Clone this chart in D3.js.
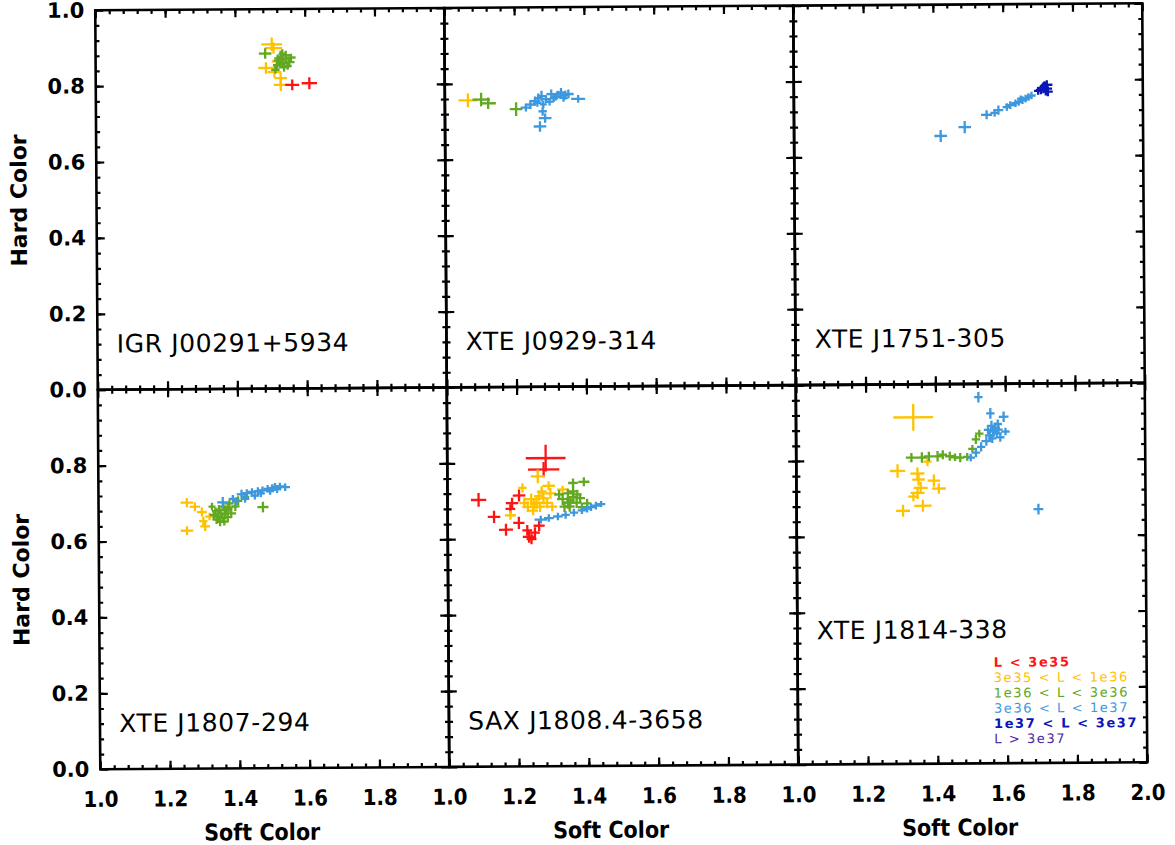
<!DOCTYPE html>
<html>
<head>
<meta charset="utf-8">
<script src="https://d3js.org/d3.v7.min.js"></script>
<style>body{margin:0;background:#fff}</style>
</head>
<body>
<svg id="grafico" width="1175" height="845"></svg>
<script>
// luminosity classes (legend)
let lumLabels = ["L < 3e35", "3e35 < L < 1e36", "1e36 < L < 3e36", "3e36 < L < 1e37", "1e37 < L < 3e37", "L > 3e37"];
let lumColors = ["#ff1414", "#ffc200", "#62a820", "#3d98de", "#0a16b8", "#4a2aa0"];

let sourceNames = ["IGR J00291+5934", "XTE J0929-314", "XTE J1751-305",
                   "XTE J1807-294", "SAX J1808.4-3658", "XTE J1814-338"];

let xTicks = [1.0, 1.2, 1.4, 1.6, 1.8, 2.0];
let yTicks = [0.0, 0.2, 0.4, 0.6, 0.8, 1.0];

// [soft color, hard color, soft err, hard err, luminosity class]
let igr00291 = [
  [1.505,0.907,0.030,0.018,1],[1.510,0.897,0.025,0.015,1],[1.488,0.845,0.022,0.015,1],
  [1.512,0.834,0.020,0.014,1],[1.530,0.818,0.018,0.014,1],[1.530,0.800,0.020,0.016,1],
  [1.520,0.862,0.015,0.012,1],
  [1.486,0.883,0.018,0.014,2],[1.525,0.864,0.015,0.012,2],[1.535,0.857,0.018,0.014,2],
  [1.545,0.867,0.015,0.012,2],[1.540,0.847,0.014,0.012,2],[1.520,0.852,0.012,0.010,2],
  [1.555,0.860,0.015,0.014,2],[1.530,0.872,0.012,0.018,2],[1.550,0.850,0.012,0.010,2],
  [1.515,0.840,0.012,0.010,2],[1.560,0.872,0.013,0.010,2],[1.535,0.882,0.010,0.012,2],
  [1.528,0.856,0.012,0.012,2],[1.545,0.878,0.012,0.012,2],[1.522,0.870,0.010,0.010,2],
  [1.563,0.800,0.020,0.014,0],[1.612,0.804,0.022,0.016,0]
];
let xte0929 = [
  [1.066,0.756,0.027,0.018,1],
  [1.104,0.758,0.025,0.018,2],[1.124,0.748,0.022,0.015,2],[1.204,0.732,0.018,0.018,2],
  [1.232,0.736,0.015,0.010,3],[1.245,0.744,0.015,0.012,3],[1.258,0.753,0.014,0.012,3],
  [1.268,0.761,0.012,0.012,3],[1.277,0.766,0.013,0.014,3],[1.290,0.758,0.012,0.010,3],
  [1.305,0.771,0.014,0.012,3],[1.318,0.764,0.012,0.010,3],[1.333,0.775,0.015,0.012,3],
  [1.345,0.768,0.012,0.012,3],[1.354,0.771,0.015,0.012,3],[1.340,0.761,0.012,0.010,3],
  [1.300,0.751,0.012,0.010,3],[1.282,0.744,0.010,0.010,3],[1.382,0.758,0.020,0.010,3],
  [1.287,0.708,0.018,0.012,3],[1.272,0.686,0.018,0.014,3],[1.280,0.726,0.012,0.012,3],
  [1.265,0.748,0.012,0.010,3],[1.312,0.760,0.012,0.010,3],[1.325,0.770,0.012,0.010,3]
];
let xte1751 = [
  [1.420,0.654,0.018,0.016,3],[1.489,0.677,0.018,0.016,3],[1.552,0.709,0.016,0.012,3],
  [1.575,0.714,0.012,0.010,3],[1.586,0.721,0.014,0.012,3],[1.610,0.729,0.012,0.010,3],
  [1.620,0.734,0.014,0.010,3],[1.635,0.739,0.012,0.010,3],[1.644,0.742,0.012,0.010,3],
  [1.655,0.747,0.012,0.010,3],[1.664,0.751,0.012,0.010,3],[1.672,0.755,0.010,0.010,3],
  [1.681,0.759,0.012,0.010,3],[1.650,0.751,0.010,0.008,3],
  [1.708,0.774,0.014,0.012,4],[1.715,0.779,0.016,0.014,4],[1.722,0.777,0.018,0.018,4],
  [1.728,0.769,0.014,0.012,4],[1.718,0.784,0.012,0.012,4],[1.700,0.771,0.012,0.010,4],
  [1.725,0.787,0.016,0.012,4]
];
let xte1807 = [
  [1.253,0.701,0.018,0.012,1],[1.253,0.627,0.018,0.012,1],[1.276,0.690,0.015,0.012,1],
  [1.296,0.676,0.014,0.012,1],[1.300,0.652,0.012,0.012,1],[1.305,0.638,0.014,0.012,1],
  [1.318,0.664,0.012,0.010,1],
  [1.330,0.668,0.012,0.012,2],[1.342,0.664,0.014,0.014,2],[1.350,0.672,0.012,0.012,2],
  [1.338,0.656,0.012,0.012,2],[1.355,0.660,0.012,0.012,2],[1.362,0.670,0.012,0.012,2],
  [1.348,0.650,0.012,0.012,2],[1.370,0.662,0.012,0.012,2],[1.335,0.678,0.010,0.010,2],
  [1.365,0.680,0.012,0.010,2],[1.380,0.672,0.014,0.012,2],[1.358,0.690,0.012,0.012,2],
  [1.392,0.690,0.012,0.012,2],[1.400,0.705,0.012,0.012,2],[1.420,0.715,0.012,0.010,2],
  [1.471,0.688,0.016,0.014,2],[1.375,0.698,0.012,0.010,2],[1.325,0.690,0.010,0.010,2],
  [1.345,0.682,0.012,0.012,2],[1.360,0.650,0.012,0.010,2],[1.372,0.686,0.012,0.012,2],
  [1.356,0.701,0.016,0.014,3],[1.385,0.710,0.012,0.010,3],[1.410,0.722,0.014,0.012,3],
  [1.425,0.725,0.012,0.010,3],[1.440,0.728,0.012,0.010,3],[1.457,0.730,0.012,0.010,3],
  [1.470,0.732,0.012,0.010,3],[1.485,0.736,0.012,0.010,3],[1.498,0.738,0.012,0.010,3],
  [1.506,0.741,0.012,0.010,3],[1.520,0.742,0.012,0.010,3],[1.535,0.740,0.014,0.010,3],
  [1.448,0.718,0.012,0.010,3],[1.420,0.710,0.012,0.010,3],[1.395,0.704,0.010,0.010,3],
  [1.512,0.735,0.012,0.010,3],[1.465,0.724,0.012,0.010,3],[1.492,0.730,0.012,0.010,3]
];
let sax1808 = [
  [1.282,0.812,0.057,0.035,0],[1.276,0.782,0.045,0.020,0],[1.089,0.703,0.022,0.018,0],
  [1.133,0.658,0.018,0.016,0],[1.167,0.624,0.020,0.016,0],[1.204,0.642,0.016,0.016,0],
  [1.233,0.605,0.018,0.016,0],[1.228,0.622,0.014,0.014,0],[1.250,0.616,0.014,0.014,0],
  [1.262,0.634,0.016,0.014,0],[1.205,0.714,0.018,0.016,0],[1.185,0.694,0.018,0.014,0],
  [1.180,0.679,0.014,0.012,0],[1.240,0.599,0.014,0.014,0],
  [1.259,0.764,0.020,0.018,1],[1.240,0.704,0.020,0.015,1],[1.255,0.694,0.018,0.016,1],
  [1.265,0.684,0.016,0.014,1],[1.275,0.706,0.016,0.016,1],[1.285,0.694,0.016,0.014,1],
  [1.230,0.684,0.016,0.014,1],[1.245,0.674,0.014,0.012,1],[1.295,0.719,0.016,0.014,1],
  [1.270,0.724,0.014,0.014,1],[1.220,0.694,0.014,0.014,1],[1.180,0.662,0.016,0.012,1],
  [1.300,0.684,0.014,0.012,1],[1.215,0.734,0.012,0.012,1],[1.290,0.739,0.018,0.012,1],
  [1.330,0.729,0.016,0.010,1],[1.262,0.712,0.014,0.012,1],[1.248,0.690,0.012,0.012,1],
  [1.330,0.704,0.016,0.016,2],[1.345,0.694,0.016,0.016,2],[1.360,0.709,0.014,0.014,2],
  [1.350,0.684,0.014,0.014,2],[1.370,0.694,0.014,0.014,2],[1.335,0.684,0.014,0.014,2],
  [1.380,0.706,0.014,0.012,2],[1.320,0.716,0.014,0.012,2],[1.360,0.724,0.014,0.012,2],
  [1.391,0.749,0.016,0.012,2],[1.360,0.746,0.014,0.012,2],[1.400,0.692,0.012,0.012,2],
  [1.385,0.682,0.012,0.012,2],[1.345,0.719,0.012,0.012,2],[1.352,0.700,0.012,0.012,2],
  [1.372,0.716,0.012,0.012,2],
  [1.267,0.650,0.018,0.010,3],[1.290,0.654,0.014,0.010,3],[1.316,0.658,0.014,0.010,3],
  [1.338,0.662,0.012,0.010,3],[1.362,0.668,0.012,0.010,3],[1.385,0.674,0.012,0.010,3],
  [1.411,0.682,0.012,0.010,3],[1.425,0.686,0.012,0.010,3],[1.440,0.690,0.012,0.008,3],
  [1.400,0.678,0.012,0.010,3]
];
let xte1814 = [
  [1.336,0.913,0.057,0.035,1],[1.290,0.772,0.022,0.018,1],[1.347,0.765,0.020,0.016,1],
  [1.350,0.749,0.018,0.016,1],[1.394,0.746,0.018,0.016,1],[1.408,0.725,0.020,0.014,1],
  [1.356,0.727,0.020,0.016,1],[1.347,0.714,0.020,0.016,1],[1.362,0.680,0.025,0.016,1],
  [1.305,0.667,0.020,0.016,1],[1.376,0.796,0.012,0.012,1],[1.335,0.704,0.015,0.012,1],
  [1.330,0.807,0.016,0.012,2],[1.360,0.807,0.014,0.014,2],[1.380,0.810,0.014,0.012,2],
  [1.405,0.810,0.012,0.014,2],[1.420,0.814,0.012,0.012,2],[1.440,0.810,0.014,0.012,2],
  [1.455,0.807,0.012,0.010,2],[1.470,0.806,0.012,0.012,2],[1.490,0.808,0.012,0.010,2],
  [1.505,0.829,0.012,0.010,2],[1.515,0.854,0.012,0.012,2],[1.525,0.869,0.012,0.010,2],
  [1.500,0.806,0.012,0.010,3],[1.515,0.819,0.012,0.012,3],[1.530,0.834,0.012,0.012,3],
  [1.545,0.849,0.014,0.012,3],[1.555,0.864,0.014,0.014,3],[1.565,0.874,0.014,0.014,3],
  [1.570,0.884,0.014,0.014,3],[1.575,0.869,0.014,0.012,3],[1.560,0.889,0.012,0.014,3],
  [1.580,0.879,0.012,0.012,3],[1.585,0.859,0.012,0.012,3],[1.550,0.879,0.012,0.012,3],
  [1.557,0.922,0.012,0.014,3],[1.595,0.913,0.014,0.014,3],[1.523,0.965,0.012,0.014,3],
  [1.600,0.874,0.012,0.010,3],[1.562,0.856,0.012,0.012,3],[1.578,0.894,0.012,0.012,3],
  [1.693,0.669,0.014,0.014,3]
];

let panelData = [igr00291, xte0929, xte1751, xte1807, sax1808, xte1814];

// layout
let width = 1175, height = 845;
let lefts = [98, 447, 796];
let tops = [7, 386.5];
let W = 349, H = 379.5;
let fmt = d3.format(".1f");

let svg = d3.select("#grafico");
let root = svg.append("g").attr("transform", "rotate(-0.38," + width/2 + "," + height/2 + ")");

let majorX = xTicks, minorX = d3.range(1.04, 2.0, 0.04);
let majorY = yTicks, minorY = d3.range(0.04, 1.0, 0.04);

panelData.forEach(function(data, i){
  let col = i % 3, row = Math.floor(i / 3);
  let g = root.append("g").attr("transform", "translate(" + lefts[col] + "," + tops[row] + ")");
  let x = d3.scaleLinear().domain([1, 2]).range([0, W]);
  let y = d3.scaleLinear().domain([0, 1]).range([H, 0]);

  // inward ticks on all four sides
  let tickAxes = [
    [d3.axisBottom(x), "translate(0," + H + ")", majorX, minorX],
    [d3.axisTop(x), "translate(0,0)", majorX, minorX],
    [d3.axisLeft(y), "translate(0,0)", majorY, minorY],
    [d3.axisRight(y), "translate(" + W + ",0)", majorY, minorY]
  ];
  tickAxes.forEach(function(a){
    let ax = a[0];
    g.append("g").attr("transform", a[1])
      .call(ax.tickValues(a[2]).tickSize(-8).tickFormat(""))
      .call(s => s.select(".domain").remove())
      .selectAll("line").attr("stroke", "#000").attr("stroke-width", 2.2);
    g.append("g").attr("transform", a[1])
      .call(ax.tickValues(a[3]).tickSize(-4).tickFormat(""))
      .call(s => s.select(".domain").remove())
      .selectAll("line").attr("stroke", "#000").attr("stroke-width", 2.2);
  });

  // error-bar crosses
  let pts = g.append("g").selectAll("g").data(data).enter().append("g")
    .attr("stroke", d => lumColors[d[4]]).attr("stroke-width", 2.3);
  pts.append("line")
    .attr("x1", d => x(d[0] - d[2])).attr("x2", d => x(d[0] + d[2]))
    .attr("y1", d => y(d[1])).attr("y2", d => y(d[1]));
  pts.append("line")
    .attr("x1", d => x(d[0])).attr("x2", d => x(d[0]))
    .attr("y1", d => y(d[1] - d[3])).attr("y2", d => y(d[1] + d[3]));

  // frame
  g.append("rect").attr("width", W).attr("height", H)
    .attr("fill", "none").attr("stroke", "#000").attr("stroke-width", 2.6);

  // source name
  g.append("text")
    .attr("x", x(1.055)).attr("y", i == 5 ? y(0.33) : y(0.098))
    .attr("font-family", "DejaVu Sans").attr("font-size", 25)
    .attr("letter-spacing", 0.6)
    .text(sourceNames[i]);

  // tick labels
  if (col == 0) {
    let yl = g.append("g")
      .call(d3.axisLeft(y).tickValues(row == 0 ? yTicks : yTicks.slice(0, 5))
        .tickSize(0).tickPadding(11).tickFormat(fmt));
    yl.select(".domain").remove();
    yl.selectAll("text").attr("font-family", "DejaVu Sans").attr("font-weight", "bold")
      .attr("font-size", 21).attr("fill", "#000");
    g.append("text")
      .attr("transform", "translate(-70," + (H/2) + ") rotate(-90)")
      .attr("text-anchor", "middle")
      .attr("font-family", "DejaVu Sans").attr("font-weight", "bold").attr("font-size", 22)
      .text("Hard Color");
  }
  if (row == 1) {
    let xl = g.append("g").attr("transform", "translate(0," + H + ")")
      .call(d3.axisBottom(x).tickValues(col == 2 ? xTicks : xTicks.slice(0, 5))
        .tickSize(0).tickPadding(22).tickFormat(fmt));
    xl.select(".domain").remove();
    xl.selectAll("text").attr("font-family", "'DejaVu Sans Condensed', 'DejaVu Sans'")
      .attr("font-stretch", "condensed").attr("font-weight", "bold")
      .attr("font-size", 22).attr("fill", "#000");
    g.append("text")
      .attr("x", W/2 - 13).attr("y", H + 72)
      .attr("text-anchor", "middle")
      .attr("font-family", "'DejaVu Sans Condensed', 'DejaVu Sans'")
      .attr("font-stretch", "condensed").attr("font-weight", "bold").attr("font-size", 23)
      .text("Soft Color");
  }

  // legend in last panel
  if (i == 5) {
    g.append("g").selectAll("text").data(lumLabels).enter().append("text")
      .attr("x", 196).attr("y", (d, k) => 283 + k * 15.3)
      .attr("font-family", "DejaVu Sans").attr("font-size", 13)
      .attr("font-weight", (d, k) => (k == 0 || k == 4) ? "bold" : "normal")
      .attr("letter-spacing", 1.6)
      .attr("fill", (d, k) => lumColors[k])
      .text(d => d);
  }
});
</script>
</body>
</html>
